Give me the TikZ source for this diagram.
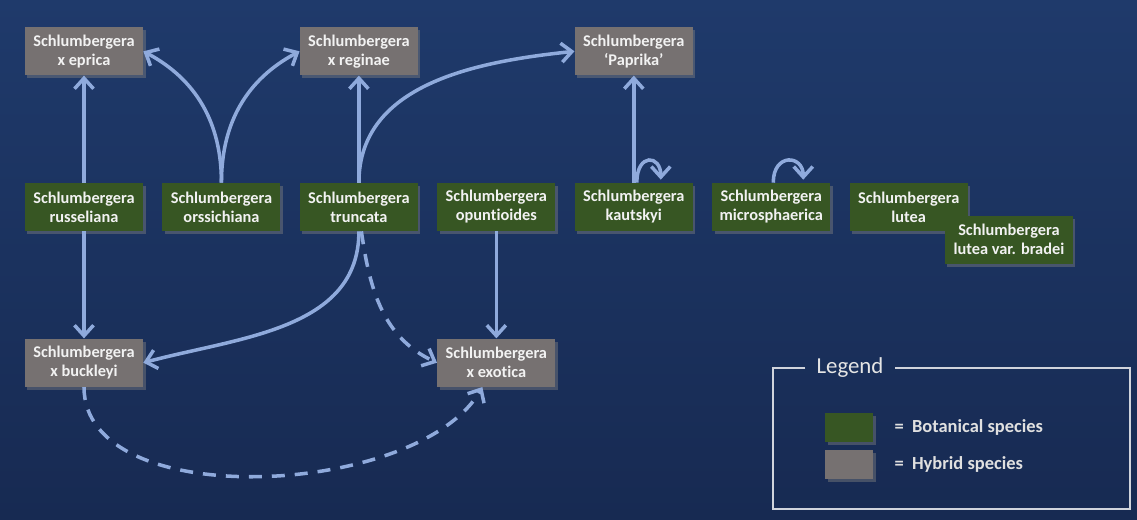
\documentclass[tikz,border=0pt]{standalone}
\usepackage{fontspec}
\setmainfont{Carlito}[Ligatures={TeX,NoCommon}]
\usetikzlibrary{positioning,arrows.meta,shadows}

\definecolor{bgtop}{HTML}{1F3A6B}
\definecolor{bgbottom}{HTML}{172A52}
\definecolor{botgreen}{HTML}{375623}
\definecolor{hybgrey}{HTML}{767171}
\definecolor{linkblue}{HTML}{8FAADC}
\definecolor{legendline}{HTML}{D0D4DC}

\begin{document}
\begin{tikzpicture}[
  font=\bfseries\fontsize{9.3}{10.8}\selectfont,
  taxon/.style={align=center, text=white!95!black, minimum width=23.6mm,
                minimum height=9.6mm, inner xsep=1mm, inner ysep=1mm,
                drop shadow={opacity=0.45, shadow xshift=0.5mm, shadow yshift=-0.6mm}},
  botanical/.style={taxon, fill=botgreen},
  hybrid/.style={taxon, fill=hybgrey},
  cross/.style={-{Straight Barb[length=2.1mm, width=3.8mm]}, line width=2pt, linkblue},
  unsure/.style={cross, dash pattern=on 2.6mm off 2mm},
  swatch/.style={minimum width=9.6mm, minimum height=5.8mm, inner sep=0pt,
                 drop shadow={opacity=0.45, shadow xshift=0.5mm, shadow yshift=-0.6mm}},
  legendtext/.style={font=\bfseries\fontsize{10.5}{12}\selectfont, text=white!88!black},
  node distance=21.4mm and 3.75mm,
]
  \shade[top color=bgtop, bottom color=bgbottom] (0,0) rectangle (22.74,-10.38);
  \useasboundingbox (0,0) rectangle (22.74,-10.38);

  % botanical species
  \node[botanical] (rus) at (1.68,-4.14) {Schlumbergera\\russeliana};
  \node[botanical, right=of rus] (ors) {Schlumbergera\\orssichiana};
  \node[botanical, right=of ors] (tru) {Schlumbergera\\truncata};
  \node[botanical, right=of tru] (opu) {Schlumbergera\\opuntioides};
  \node[botanical, right=of opu] (kau) {Schlumbergera\\kautskyi};
  \node[botanical, right=of kau] (mic) {Schlumbergera\\microsphaerica};
  \node[botanical, right=of mic] (lut) {Schlumbergera\\lutea};
  \node[botanical, minimum width=25.6mm, below right=-3.2mm and -4.7mm of lut] (bra) {Schlumbergera\\lutea var. bradei};

  % hybrids
  \node[hybrid, above=of rus] (epr) {Schlumbergera\\x eprica};
  \node[hybrid, above=of tru] (reg) {Schlumbergera\\x reginae};
  \node[hybrid, above=of kau] (pap) {Schlumbergera\\‘Paprika’};
  \node[hybrid, below=of rus] (buc) {Schlumbergera\\x buckleyi};
  \node[hybrid, below=of opu] (exo) {Schlumbergera\\x exotica};

  % parentage
  \draw[cross] (rus) -- (epr);
  \draw[cross] (rus) -- (buc);
  \draw[cross] (ors.north) to[out=90, in=-28] (epr.east);
  \draw[cross] (ors.north) to[out=90, in=-152] (reg.west);
  \draw[cross] (tru) -- (reg);
  \draw[cross] (tru.north) to[out=90, in=186] (pap.west);
  \draw[cross] (tru.south) to[out=-90, in=15] (buc.east);
  \draw[unsure] ([xshift=0.5mm]tru.south) to[out=-82, in=155] (exo.west);
  \draw[cross] (opu) -- (exo);
  \draw[unsure] (buc.south) to[out=-90, in=-120, looseness=0.82] ([xshift=-2.8mm]exo.south);
  \draw[cross] (kau) -- (pap);
  \draw[cross] ([xshift=0.6mm]kau.north) .. controls +(0,6mm) and +(0,5mm) .. ([xshift=5.4mm, yshift=0.6mm]kau.north);
  \draw[cross] ([xshift=0.4mm]mic.north) .. controls +(0,6mm) and +(0,5mm) .. ([xshift=6.4mm, yshift=0.6mm]mic.north);

  % legend
  \node[font=\fontsize{13}{15}\selectfont, text=white!90!black] (legtitle) at (17.0,-7.36) {Legend};
  \draw[legendline, line width=0.8pt] ([xshift=-1mm]legtitle.west) -- (15.46,-7.36) -- (15.46,-10.18)
    -- (22.6,-10.18) -- (22.6,-7.36) -- ([xshift=1mm]legtitle.east);
  \node[swatch, fill=botgreen] (keybot) at (16.98,-8.55) {};
  \node[swatch, fill=hybgrey, below=1.4mm of keybot] (keyhyb) {};
  \node[legendtext, right=3mm of keybot] (keybottext) {=\ \ Botanical species};
  \node[legendtext, right=3mm of keyhyb] (keyhybtext) {=\ \ Hybrid species};
\end{tikzpicture}
\end{document}
